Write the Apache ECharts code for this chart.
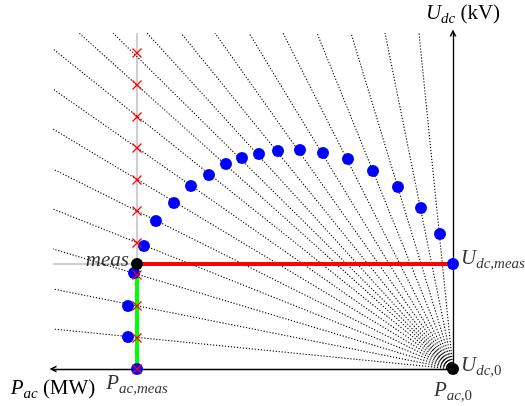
<!DOCTYPE html>
<html>
<head>
<meta charset="utf-8">
<script src="https://cdn.jsdelivr.net/npm/echarts@6/dist/echarts.min.js"></script>
<style>html,body{margin:0;padding:0;background:#fff}#c{width:525px;height:406px}</style>
</head>
<body>
<div id="c"></div>
<script>
// ---- data (Pac, Udc in diagram units) ----
const pacMax = 400;
const udcMax = 336;
const pacMeas = 316;
const udcMeas = 105;
// rays from the origin that end on the top edge (Pac value at Udc = udcMax)
const rayTopPac = [34, 68, 102, 136, 170, 204, 238, 272, 306, 340, 374];
// rays from the origin that end on the left edge (Udc value at Pac = pacMax)
const rayLeftUdc = [40, 80, 120, 160, 200, 240, 280, 320];
// blue operating points
const dotPac = [0, 13, 32, 55, 80, 105, 130, 153, 175, 194, 211, 227, 244, 262, 279, 297, 309, 319, 325, 325, 316];
const dotUdc = [105, 135, 161, 182, 198, 210, 216, 219, 218, 215, 211, 205, 194, 183, 166, 148, 123, 96, 63, 32, 0];
// red crosses along Pac = pacMeas
const crossUdc = [0, 31, 63, 94, 126, 158, 189, 221, 252, 284, 316];
// text
const labelUdcMeas = '{i|U}{s|dc,meas}';
const labelUdc0 = '{i|U}{s|dc,}{z|0}';
const labelPac0 = '{i|P}{s|ac,}{z|0}';
const labelPacMeas = '{i|P}{s|ac,meas}';
const labelMeas = '{i|meas}';
const nameX = '{i|P}{s|ac}{n| (MW)}';
const nameY = '{i|U}{s|dc}{n| (kV)}';

const F = '"Liberation Serif", "Times New Roman", serif';
const rich = {
  i: {fontFamily: F, fontStyle: 'italic', fontSize: 21, lineHeight: 24, verticalAlign: 'top', color: '#000'},
  n: {fontFamily: F, fontSize: 21, lineHeight: 24, verticalAlign: 'top', color: '#000'},
  s: {fontFamily: F, fontStyle: 'italic', fontSize: 15, lineHeight: 15, verticalAlign: 'bottom', color: '#000'},
  z: {fontFamily: F, fontSize: 15, lineHeight: 15, verticalAlign: 'bottom', color: '#000'}
};
const chevron = 'path://M0,10 L5,0 L10,10 L7.6,10 L5,4.6 L2.4,10 Z';

const rays = rayTopPac.map(p => ({coords: [[0, 0], [p, udcMax]]}))
  .concat(rayLeftUdc.map(u => ({coords: [[0, 0], [pacMax, u]]})));

const chart = echarts.init(document.getElementById('c'), null, {renderer: 'canvas'});
chart.setOption({
  animation: false,
  backgroundColor: '#fff',
  grid: {left: 53, right: 72, top: 33, bottom: 37},
  xAxis: {
    type: 'value', inverse: true, min: 0, max: pacMax,
    splitLine: {show: false}, axisTick: {show: false}, axisLabel: {show: false},
    axisLine: {show: true, onZero: true, symbol: [chevron, 'none'], symbolSize: [8, 7],
      lineStyle: {color: '#000', width: 1.3}},
    name: nameX, nameLocation: 'end', nameGap: 0,
    nameTextStyle: {align: 'center', verticalAlign: 'top', padding: [9, 0, 0, 0], rich: rich}
  },
  yAxis: {
    type: 'value', min: 0, max: udcMax,
    splitLine: {show: false}, axisTick: {show: false}, axisLabel: {show: false},
    axisLine: {show: true, onZero: true, symbol: ['none', chevron], symbolSize: [8, 7],
      lineStyle: {color: '#000', width: 1.3}},
    name: nameY, nameLocation: 'end', nameGap: 6,
    nameTextStyle: {align: 'center', verticalAlign: 'bottom', padding: [0, 0, 0, 20], rich: rich}
  },
  series: [
    {type: 'line', z: 1, silent: true, showSymbol: false, symbol: 'none',
      lineStyle: {color: '#cfcfcf', width: 2},
      data: [[pacMeas, 0], [pacMeas, udcMax]]},
    {type: 'line', z: 1, silent: true, showSymbol: false, symbol: 'none',
      lineStyle: {color: '#cfcfcf', width: 2},
      data: [[pacMax, udcMeas], [pacMeas, udcMeas]]},
    {type: 'lines', coordinateSystem: 'cartesian2d', z: 2, silent: true,
      lineStyle: {color: '#000', width: 1.1, type: [1.2, 1.8], opacity: 1},
      data: rays},
    {type: 'line', z: 3, silent: true, showSymbol: false, symbol: 'none',
      lineStyle: {color: '#ff0000', width: 4},
      data: [[pacMeas, udcMeas], [0, udcMeas]]},
    {type: 'line', z: 3, silent: true, showSymbol: false, symbol: 'none',
      lineStyle: {color: '#00ff00', width: 4},
      data: [[pacMeas, udcMeas], [pacMeas, 0]]},
    {type: 'scatter', z: 4, silent: true, symbol: 'circle', symbolSize: 12,
      itemStyle: {color: '#0000ff', opacity: 1},
      data: dotPac.map((p, i) => [p, dotUdc[i]])},
    {type: 'scatter', z: 5, silent: true, symbol: 'circle', symbolSize: 12,
      itemStyle: {color: '#000', opacity: 1},
      data: [[pacMeas, udcMeas], [0, 0]]},
    {type: 'scatter', z: 6, silent: true, symbol: 'path://M0,0L10,10M10,0L0,10', symbolSize: 9,
      itemStyle: {color: 'none', borderColor: '#ff0000', borderWidth: 1.2, opacity: 1},
      data: crossUdc.map(u => [pacMeas, u])},
    {type: 'scatter', z: 7, silent: true, symbolSize: 0,
      label: {show: true, rich: rich},
      data: [
        {value: [0, udcMeas], label: {position: 'right', distance: 8, offset: [0, -4], formatter: labelUdcMeas}},
        {value: [0, 0], label: {position: 'right', distance: 8, offset: [0, -2], formatter: labelUdc0}},
        {value: [0, 0], label: {position: 'inside', offset: [0, 23], formatter: labelPac0}},
        {value: [pacMeas, 0], label: {position: 'inside', offset: [0, 16], formatter: labelPacMeas}},
        {value: [pacMeas, udcMeas], label: {position: 'left', distance: 8, offset: [0, -2], formatter: labelMeas}}
      ]}
  ]
});
</script>
</body>
</html>
